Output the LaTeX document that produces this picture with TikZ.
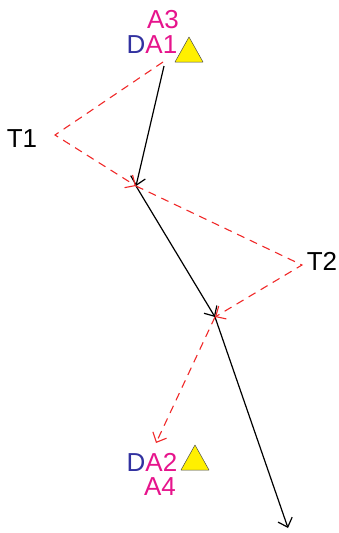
\documentclass[tikz,border=0pt]{standalone}
\usepackage{fontspec}
\setmainfont{Liberation Sans}
\usetikzlibrary{arrows.meta, positioning}
\definecolor{TrvMagenta}{RGB}{230, 20, 140}
\definecolor{TrvBlue}{RGB}{50, 50, 160}
\definecolor{TrvRed}{RGB}{240, 40, 40}
\definecolor{TrvYellow}{RGB}{255, 240, 0}

\begin{document}
\begin{tikzpicture}[x=1pt, y=-1pt,
    leg/.style={black, line width=1.2pt, -{Straight Barb[length=8pt, width=15pt]}},
    tie/.style={TrvRed, line width=1.1pt, dash pattern=on 8pt off 6pt,
                -{Straight Barb[length=8pt, width=15pt]}},
    lbl/.style={inner sep=0pt, anchor=base, font=\fontsize{26}{28}\selectfont},
    flag/.style={fill=TrvYellow, draw=black!70, line width=0.5pt, line join=round}]
  \useasboundingbox (0,0) rectangle (339,533);

  % stations
  \coordinate (s1) at (164,66);
  \coordinate (s2) at (136,186);
  \coordinate (s3) at (215,317);
  \coordinate (s4) at (288,528);
  \coordinate (t1) at (55,135);
  \coordinate (t2) at (302,265);
  \coordinate (r1) at (163,62);
  \coordinate (r4) at (156,443);

  % labels
  \node[lbl, TrvMagenta] (a3) at (163,28) {A3};
  \node[lbl] (da1) at (152,53) {\color{TrvBlue}D\color{TrvMagenta}A1};
  \node[lbl] (lt1) at (22,147) {T1};
  \node[lbl] (lt2) at (322,270) {T2};
  \node[lbl] (da2) at (152,471) {\color{TrvBlue}D\color{TrvMagenta}A2};
  \node[lbl, TrvMagenta] (a4) at (160,495) {A4};

  % control points
  \draw[flag] (175,62) -- (203,62) -- (189,37) -- cycle;
  \draw[flag] (181,470) -- (209,470) -- (195,445) -- cycle;

  % traverse legs
  \draw[leg] (s1) -- (s2);
  \draw[leg] (s2) -- (s3);
  \draw[leg] (s3) -- (s4);

  % ties
  \draw[tie] (r1) -- (t1) -- (s2);
  \draw[tie] (s2) -- (t2) -- (s3);
  \draw[tie] (s3) -- (r4);
\end{tikzpicture}
\end{document}
